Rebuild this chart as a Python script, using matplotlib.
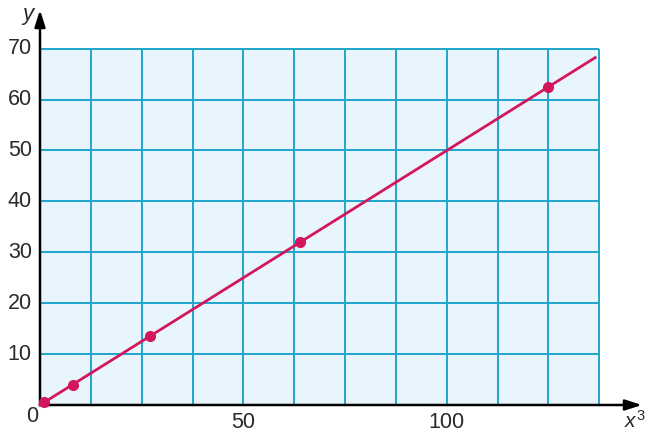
import matplotlib
matplotlib.use("Agg")
import matplotlib.pyplot as plt
from matplotlib.patches import Rectangle

# ── Data ──────────────────────────────────────────────────────────────────
X_CUBED = [1, 8, 27, 64, 125]
Y_VALS  = [0.5, 4, 13.5, 32, 62.5]
LINE_X  = [0, 136.5]
LINE_Y  = [0, 68.25]

X_TICKS = [50, 100]
Y_TICKS = [10, 20, 30, 40, 50, 60, 70]

GRID_XMAX = 137.5
GRID_YMAX = 70
GRID_DX   = 12.5
GRID_DY   = 10

# ── Colours ───────────────────────────────────────────────────────────────
C_FILL = "#e8f5fc"
C_GRID = "#1ea5cc"
C_LINE = "#d3175c"
C_TEXT = "#2a2a2a"

plt.rcParams["font.family"] = ["Liberation Sans", "DejaVu Sans"]
plt.rcParams["mathtext.fontset"] = "custom"
plt.rcParams["mathtext.it"] = "Liberation Sans:italic"
plt.rcParams["mathtext.rm"] = "Liberation Sans"

FS = 15.5

fig = plt.figure(figsize=(6.53, 4.38), dpi=100)
ax = fig.add_axes([40 / 653, 33 / 438, 602 / 653, 395 / 438])
XMAX, YMAX = 148.0, 77.6
ax.set_xlim(0, XMAX)
ax.set_ylim(0, YMAX)
ax.axis("off")

# grid area
ax.add_patch(Rectangle((0, 0), GRID_XMAX, GRID_YMAX, facecolor=C_FILL,
                       edgecolor="none", zorder=1))
gx = [GRID_DX * i for i in range(1, int(GRID_XMAX / GRID_DX) + 1)]
gy = [GRID_DY * i for i in range(1, int(GRID_YMAX / GRID_DY) + 1)]
ax.vlines(gx, 0, GRID_YMAX, color=C_GRID, lw=1.4, zorder=2)
ax.hlines(gy, 0, GRID_XMAX, color=C_GRID, lw=1.4, zorder=2)

# axes with arrows
arrow = dict(arrowstyle="-|>,head_length=1.0,head_width=0.32",
             color="black", lw=1.8, shrinkA=0, shrinkB=0)
ax.annotate("", xy=(XMAX, 0), xytext=(0, 0), arrowprops=arrow,
            zorder=3, annotation_clip=False)
ax.annotate("", xy=(0, YMAX), xytext=(0, 0), arrowprops=arrow,
            zorder=3, annotation_clip=False)

# line and points
ax.plot(LINE_X, LINE_Y, color=C_LINE, lw=2.0, zorder=4, clip_on=False)
ax.plot(X_CUBED, Y_VALS, "o", color=C_LINE, ms=7, zorder=5, clip_on=False)

# tick labels
for yv in Y_TICKS:
    ax.text(-2.0, yv, str(yv), ha="right", va="center", fontsize=FS,
            color=C_TEXT)
for xv in X_TICKS:
    ax.text(xv, -1.3, str(xv), ha="center", va="top", fontsize=FS,
            color=C_TEXT)
ax.text(-0.4, -0.2, "0", ha="right", va="top", fontsize=FS, color=C_TEXT)

# axis labels
ax.text(-1.6, 76.8, "y", ha="right", va="center", fontsize=16,
        style="italic", color=C_TEXT)
ax.text(149.0, -1.0, "$x^3$", ha="right", va="top", fontsize=15,
        color=C_TEXT)

fig.savefig("out.png", dpi=100)
